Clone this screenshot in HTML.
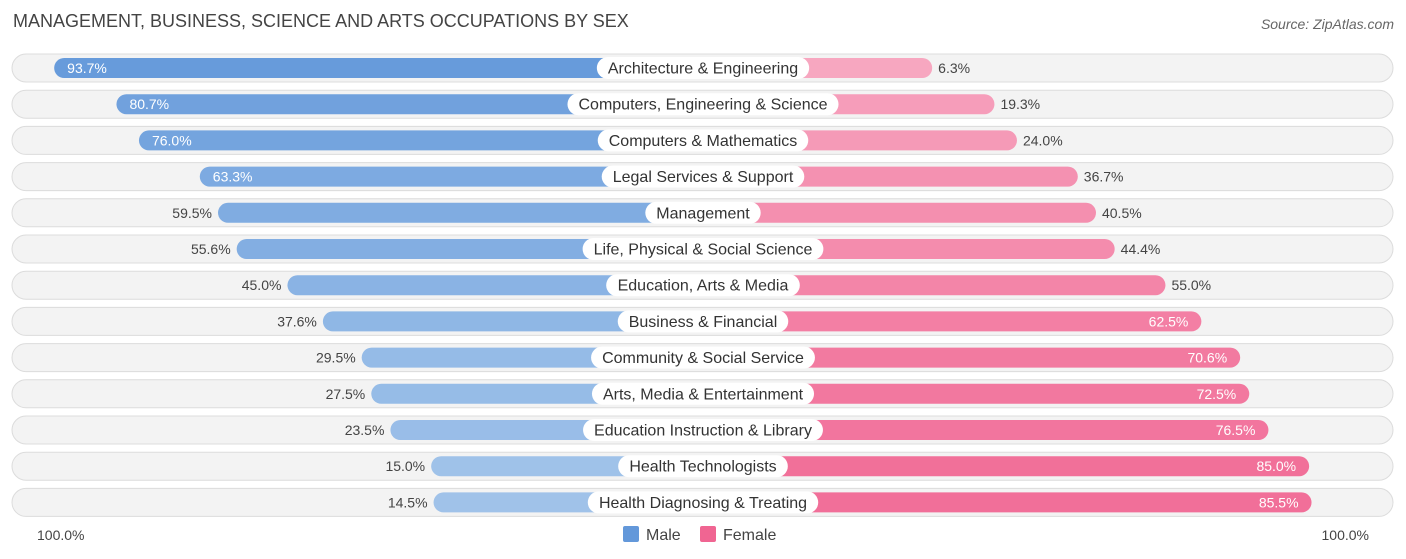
<!DOCTYPE html>
<html><head><meta charset="utf-8"><style>
body{margin:0;width:1406px;height:559px;background:#fff;font-family:"Liberation Sans",sans-serif;position:relative;overflow:hidden}
.t{position:absolute;white-space:nowrap}
</style></head><body>
<div class="t" style="left:13px;top:11px;font-size:18px;color:#444">MANAGEMENT, BUSINESS, SCIENCE AND ARTS OCCUPATIONS BY SEX</div>
<div class="t" style="right:12px;top:16px;font-size:14px;color:#666;font-style:italic">Source: ZipAtlas.com</div>
<svg id="c" width="1406" height="559" style="position:absolute;left:0;top:0"></svg>
<script>
const categories=["Architecture & Engineering","Computers, Engineering & Science","Computers & Mathematics","Legal Services & Support","Management","Life, Physical & Social Science","Education, Arts & Media","Business & Financial","Community & Social Service","Arts, Media & Entertainment","Education Instruction & Library","Health Technologists","Health Diagnosing & Treating"];
const maleValues=[93.7,80.7,76.0,63.3,59.5,55.6,45.0,37.6,29.5,27.5,23.5,15.0,14.5];
const femaleValues=[6.3,19.3,24.0,36.7,40.5,44.4,55.0,62.5,70.6,72.5,76.5,85.0,85.5];
const axisLabels=["100.0%","100.0%"];
const NS="http://www.w3.org/2000/svg";
const svg=document.getElementById('c');
const k=4.79, mZero=503, fZero=902, cx=703, y0=68, dy=36.2;
function mx(v){return mZero-k*v;}
function fx(v){return fZero+k*v;}
function mix(a,b,t){const p=s=>[1,3,5].map(i=>parseInt(s.substr(i,2),16));const A=p(a),B=p(b);return 'rgb('+A.map((x,i)=>Math.round(x+(B[i]-x)*t)).join(',')+')';}
function el(tag,attrs,parent){const e=document.createElementNS(NS,tag);for(const a in attrs)e.setAttribute(a,attrs[a]);(parent||svg).appendChild(e);return e;}
const ctx=document.createElement('canvas').getContext('2d');ctx.font='16px "Liberation Sans"';
categories.forEach((c,i)=>{
 const y=y0+i*dy;
 const g=el('g',{});
 
 
 const bg=el('rect',{x:12,y:y-14,width:1381,height:28,rx:14,fill:'#f3f3f3',stroke:'#dcdcdc','stroke-width':1},g);
 
 
 const m=maleValues[i],f=femaleValues[i];
 const mb=el('rect',{x:mx(m),y:y-10,width:cx-mx(m),height:20,rx:10,fill:mix('#aac9ec','#6398da',m/100)},g);
 
 
 const fb=el('rect',{x:cx,y:y-10,width:fx(f)-cx,height:20,rx:10,fill:mix('#f7abc3','#f06592',f/100)},g);
 
 
 const w=ctx.measureText(c).width+22;
 const lb=el('rect',{x:cx-w/2,y:y-11,width:w,height:22,rx:11,fill:'#fff'},g);
 
 
 const lt=el('text',{x:cx,y:y+5.5,'text-anchor':'middle','font-size':16,fill:'#333'},g);lt.textContent=c;
 
 
 const mIn=m>60;
 const mt=el('text',{x:mIn?mx(m)+13:mx(m)-6,y:y+5,'text-anchor':mIn?'start':'end','font-size':14,fill:mIn?'#fff':'#444'},g);mt.textContent=m.toFixed(1)+'%';
 
 
 const fIn=f>60;
 const ft=el('text',{x:fIn?fx(f)-13:fx(f)+6,y:y+5,'text-anchor':fIn?'end':'start','font-size':14,fill:fIn?'#fff':'#444'},g);ft.textContent=f.toFixed(1)+'%';
 
 
});
const a1=el('text',{x:37,y:540,'font-size':14,fill:'#444'});a1.textContent=axisLabels[0];


const a2=el('text',{x:1369,y:540,'font-size':14,fill:'#444','text-anchor':'end'});a2.textContent=axisLabels[1];


const l1=el('rect',{x:623,y:526,width:16,height:16,rx:2,fill:'#6398da'});


const l1t=el('text',{x:646,y:540,'font-size':16,fill:'#444'});l1t.textContent='Male';


const l2=el('rect',{x:700,y:526,width:16,height:16,rx:2,fill:'#f06592'});


const l2t=el('text',{x:723,y:540,'font-size':16,fill:'#444'});l2t.textContent='Female';


</script>
</body></html>
